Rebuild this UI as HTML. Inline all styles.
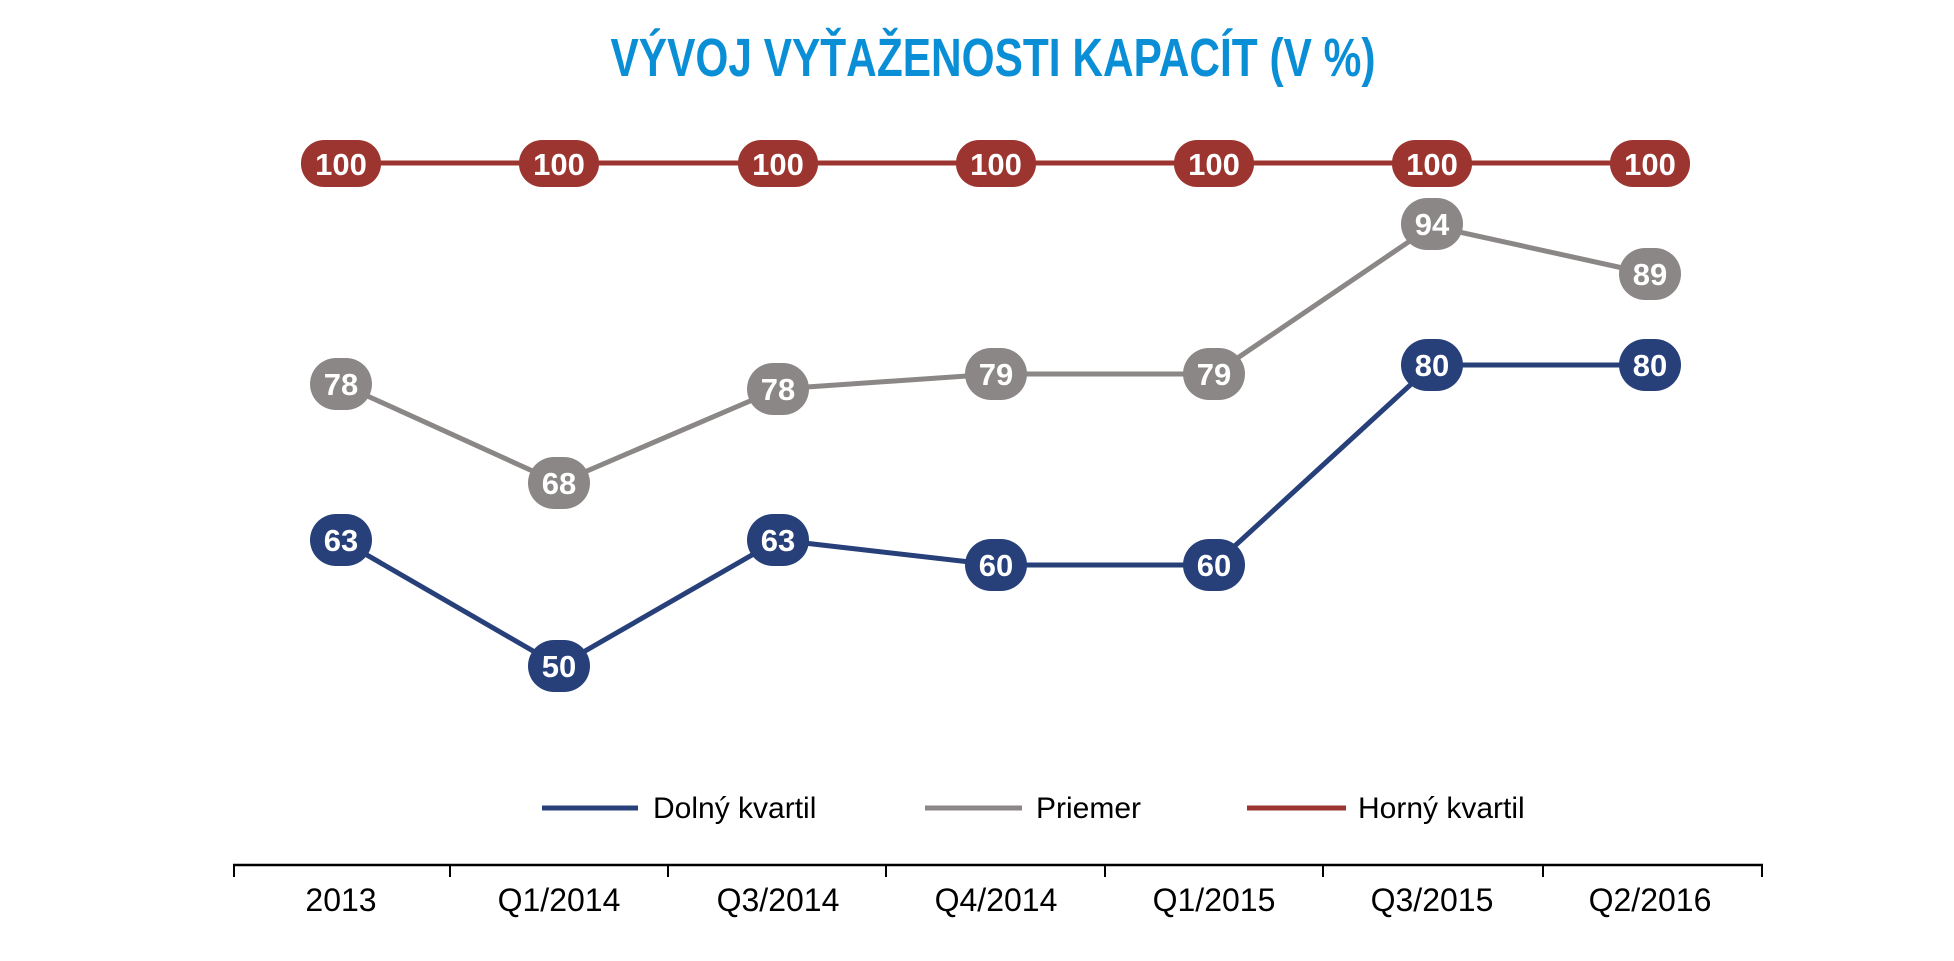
<!DOCTYPE html>
<html><head><meta charset="utf-8"><style>
html,body{margin:0;padding:0;background:#fff;}
svg{display:block;}
text{font-family:"Liberation Sans",Arial,sans-serif;}
</style></head><body>
<svg width="1954" height="961" viewBox="0 0 1954 961" xmlns="http://www.w3.org/2000/svg">
<text x="993" y="76" text-anchor="middle" font-size="54" font-weight="bold" fill="#0a8fd6" textLength="765" lengthAdjust="spacingAndGlyphs">VÝVOJ VYŤAŽENOSTI KAPACÍT (V %)</text>

<polyline points="341,163 559,163 778,163 996,163 1214,163 1432,163 1650,163" fill="none" stroke="#9c3530" stroke-width="5"/>
<polyline points="341,384 559,483 778,389 996,374 1214,374 1432,226 1650,274" fill="none" stroke="#8a8786" stroke-width="5"/>
<polyline points="341,540 559,666 778,540 996,565 1214,565 1432,365 1650,365" fill="none" stroke="#27407a" stroke-width="5"/>

<g font-size="31" font-weight="bold" fill="#fff" text-anchor="middle">
<g fill="#9c3530">
<rect x="301" y="140" width="80" height="47" rx="23"/><rect x="519" y="140" width="80" height="47" rx="23"/><rect x="738" y="140" width="80" height="47" rx="23"/><rect x="956" y="140" width="80" height="47" rx="23"/><rect x="1174" y="140" width="80" height="47" rx="23"/><rect x="1392" y="140" width="80" height="47" rx="23"/><rect x="1610" y="140" width="80" height="47" rx="23"/>
</g>
<g fill="#8a8786">
<rect x="310" y="358" width="62" height="52" rx="26"/><rect x="528" y="457" width="62" height="52" rx="26"/><rect x="747" y="363" width="62" height="52" rx="26"/><rect x="965" y="348" width="62" height="52" rx="26"/><rect x="1183" y="348" width="62" height="52" rx="26"/><rect x="1401" y="198" width="62" height="52" rx="26"/><rect x="1619" y="248" width="62" height="52" rx="26"/>
</g>
<g fill="#27407a">
<rect x="310" y="514" width="62" height="52" rx="26"/><rect x="528" y="640" width="62" height="52" rx="26"/><rect x="747" y="514" width="62" height="52" rx="26"/><rect x="965" y="539" width="62" height="52" rx="26"/><rect x="1183" y="539" width="62" height="52" rx="26"/><rect x="1401" y="339" width="62" height="52" rx="26"/><rect x="1619" y="339" width="62" height="52" rx="26"/>
</g>
<text x="341" y="175">100</text><text x="559" y="175">100</text><text x="778" y="175">100</text><text x="996" y="175">100</text><text x="1214" y="175">100</text><text x="1432" y="175">100</text><text x="1650" y="175">100</text>
<text x="341" y="395">78</text><text x="559" y="494">68</text><text x="778" y="400">78</text><text x="996" y="385">79</text><text x="1214" y="385">79</text><text x="1432" y="235">94</text><text x="1650" y="285">89</text>
<text x="341" y="551">63</text><text x="559" y="677">50</text><text x="778" y="551">63</text><text x="996" y="576">60</text><text x="1214" y="576">60</text><text x="1432" y="376">80</text><text x="1650" y="376">80</text>
</g>

<line x1="542" y1="808" x2="638" y2="808" stroke="#27407a" stroke-width="5"/>
<text x="653" y="818" font-size="30" fill="#000">Dolný kvartil</text>
<line x1="925" y1="808" x2="1022" y2="808" stroke="#8a8786" stroke-width="5"/>
<text x="1036" y="818" font-size="30" fill="#000">Priemer</text>
<line x1="1247" y1="808" x2="1346" y2="808" stroke="#9c3530" stroke-width="5"/>
<text x="1358" y="818" font-size="30" fill="#000">Horný kvartil</text>

<line x1="233" y1="865" x2="1763" y2="865" stroke="#000" stroke-width="2.5"/>
<g stroke="#000" stroke-width="2">
<line x1="234" y1="865" x2="234" y2="877"/><line x1="450" y1="865" x2="450" y2="877"/><line x1="668" y1="865" x2="668" y2="877"/><line x1="886" y1="865" x2="886" y2="877"/><line x1="1105" y1="865" x2="1105" y2="877"/><line x1="1323" y1="865" x2="1323" y2="877"/><line x1="1543" y1="865" x2="1543" y2="877"/><line x1="1762" y1="865" x2="1762" y2="877"/>
</g>
<g font-size="32" fill="#000" text-anchor="middle">
<text x="341" y="911">2013</text><text x="559" y="911">Q1/2014</text><text x="778" y="911">Q3/2014</text><text x="996" y="911">Q4/2014</text><text x="1214" y="911">Q1/2015</text><text x="1432" y="911">Q3/2015</text><text x="1650" y="911">Q2/2016</text>
</g>
</svg>
</body></html>
